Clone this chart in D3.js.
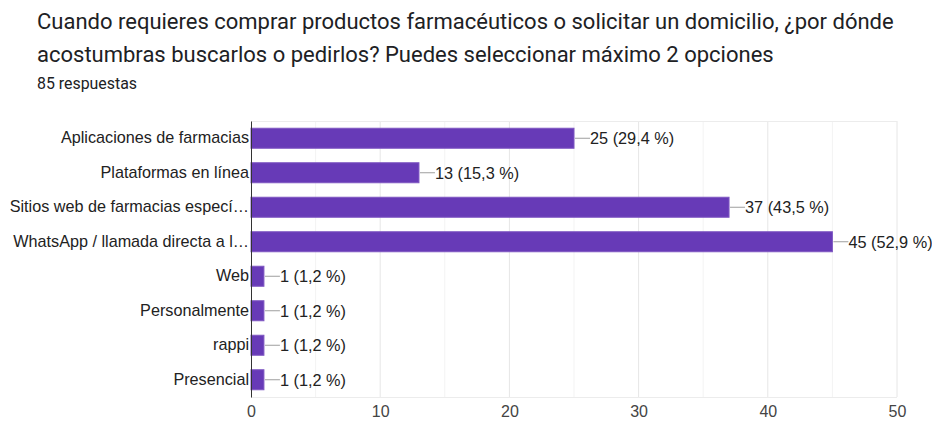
<!DOCTYPE html>
<html>
<head>
<meta charset="utf-8">
<script src="https://cdn.jsdelivr.net/npm/d3@7/dist/d3.min.js"></script>
<style>
  html, body { margin: 0; padding: 0; background: #fff; }
  svg { display: block; }
</style>
</head>
<body>
<svg id="chart" width="932" height="421"></svg>
<script>
// Survey question and response count
const titleLines = [
  "Cuando requieres comprar productos farmacéuticos o solicitar un domicilio, ¿por dónde",
  "acostumbras buscarlos o pedirlos? Puedes seleccionar máximo 2 opciones"
];
const subtitle = "85 respuestas";

// Answer options (truncated as displayed) and counts
const categories = [
  "Aplicaciones de farmacias",
  "Plataformas en línea",
  "Sitios web de farmacias especí…",
  "WhatsApp / llamada directa a l…",
  "Web",
  "Personalmente",
  "rappi",
  "Presencial"
];
const counts = [25, 13, 37, 45, 1, 1, 1, 1];
const percents = ["29,4", "15,3", "43,5", "52,9", "1,2", "1,2", "1,2", "1,2"];
const xTicks = [0, 10, 20, 30, 40, 50];
const xMinorTicks = [5, 15, 25, 35, 45];

const svg = d3.select("#chart");
const labelFont = "Arial, 'Liberation Sans', sans-serif";

// Title block
const title = svg.append("g")
  .attr("font-family", "Roboto, 'Noto Sans', sans-serif")
  .attr("fill", "#202124");
title.selectAll("text.t").data(titleLines).join("text")
  .attr("class", "t")
  .attr("x", 37)
  .attr("y", (d, i) => 29 + i * 32.5)
  .attr("font-size", 22)
  .text(d => d);
title.append("text")
  .attr("x", 37).attr("y", 89)
  .attr("font-size", 15.9)
  .text(subtitle);

// Plot area
const plot = { left: 251, right: 897, top: 121, bottom: 397 };
const x = d3.scaleLinear().domain([0, 50]).range([plot.left, plot.right]);
const y = d3.scaleBand().domain(categories).range([plot.top, plot.bottom]).paddingInner(0.42).paddingOuter(0.21);

const g = svg.append("g");

// Minor and major vertical gridlines
g.selectAll("line.minor").data(xMinorTicks).join("line")
  .attr("x1", d => x(d)).attr("x2", d => x(d))
  .attr("y1", plot.top).attr("y2", plot.bottom)
  .attr("stroke", "#f3f3f3").attr("stroke-width", 1);
g.selectAll("line.major").data(xTicks.slice(1)).join("line")
  .attr("x1", d => x(d)).attr("x2", d => x(d))
  .attr("y1", plot.top).attr("y2", plot.bottom)
  .attr("stroke", "#e6e6e6").attr("stroke-width", 1);
// Top and bottom edges of the plot area
g.append("line")
  .attr("x1", plot.left).attr("x2", plot.right)
  .attr("y1", plot.top + 0.5).attr("y2", plot.top + 0.5)
  .attr("stroke", "#ececec");
g.append("line")
  .attr("x1", plot.left).attr("x2", plot.right)
  .attr("y1", plot.bottom + 0.5).attr("y2", plot.bottom + 0.5)
  .attr("stroke", "#ececec");

// Bars
const rows = categories.map((c, i) => ({ c, v: counts[i], p: percents[i] }));
g.selectAll("rect.bar").data(rows).join("rect")
  .attr("class", "bar")
  .attr("x", x(0))
  .attr("y", d => y(d.c))
  .attr("width", d => x(d.v) - x(0))
  .attr("height", y.bandwidth())
  .attr("fill", "#673ab7")
  .attr("stroke", "#7e57c2")
  .attr("stroke-width", 1);

// Leader lines and value labels
g.selectAll("line.lead").data(rows).join("line")
  .attr("x1", d => x(d.v) + 1).attr("x2", d => x(d.v) + 16)
  .attr("y1", d => y(d.c) + y.bandwidth() / 2)
  .attr("y2", d => y(d.c) + y.bandwidth() / 2)
  .attr("stroke", "#9e9e9e").attr("stroke-width", 1);
g.selectAll("text.val").data(rows).join("text")
  .attr("x", d => x(d.v) + 16)
  .attr("y", d => y(d.c) + y.bandwidth() / 2)
  .attr("dy", "0.36em")
  .attr("font-family", labelFont)
  .attr("font-size", 16.3)
  .attr("fill", "#222")
  .text(d => `${d.v} (${d.p} %)`);

// Category axis
const yAxis = g.append("g")
  .attr("transform", `translate(${plot.left},0)`)
  .call(d3.axisLeft(y).tickSize(0).tickPadding(2));
yAxis.select(".domain").attr("stroke", "#333");
yAxis.selectAll("text")
  .attr("font-family", labelFont)
  .attr("font-size", 16.2)
  .attr("fill", "#222");

// Value axis labels
const xAxis = g.append("g")
  .attr("transform", `translate(0,${plot.bottom})`)
  .call(d3.axisBottom(x).tickValues(xTicks).tickSize(0).tickPadding(9));
xAxis.select(".domain").remove();
xAxis.selectAll("text")
  .attr("font-family", labelFont)
  .attr("font-size", 16)
  .attr("fill", "#444");
</script>
</body>
</html>
